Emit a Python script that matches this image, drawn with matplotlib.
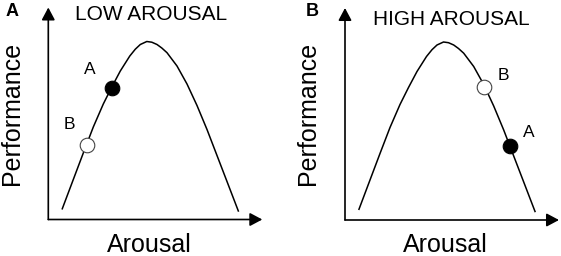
import matplotlib
matplotlib.use("Agg")
import matplotlib.pyplot as plt

plt.rcParams["font.family"] = ["Liberation Sans", "DejaVu Sans"]

# inverted-U curve (same shape in both panels)
arousal = [13.7, 25.0, 35.0, 45.0, 55.0, 63.5, 72.0, 81.5, 87.0, 92.0, 98.5,
           103.5, 108.7, 113.5, 118.7, 128.7, 138.7, 148.7, 158.7, 168.7, 178.7, 190.3]
performance = [10.0, 40.0, 66.5, 92.5, 115.5, 132.5, 148.5, 163.5, 170.3, 175.0, 178.0,
               177.3, 175.0, 171.5, 166.8, 153.5, 135.5, 114.0, 90.0, 64.0, 38.0, 7.8]

titles = ["LOW AROUSAL", "HIGH AROUSAL"]
panel_labels = ["A", "B"]

# marked points per panel: (arousal, performance)
point_a = [(63.4, 131.5), (165.0, 74.0)]
point_b = [(38.4, 74.5), (139.3, 133.5)]
# label offsets in pixels (dx, dy) from each point
offset_a = [(-22, 19), (18.5, 13.5)]
offset_b = [(-17.7, 20.7), (18.7, 10.8)]

W, H = 561, 256
x_len = 214
y_len = 212

fig = plt.figure(figsize=(W / 100, H / 100), dpi=100)

origins = [(48.3, 219.5), (345.0, 220.0)]
title_pos = [(151, 20), (451.7, 25)]
plabel_pos = [(12, 16), (312.5, 16)]
ylabel_x = [12.5, 308.0]
xlabel_x = [149.0, 445.0]


def fx(px):
    return px / W


def fy(py):
    return 1 - py / H


for i in range(2):
    ox, oy = origins[i]
    ax = fig.add_axes([fx(ox), (H - oy) / H, x_len / W, y_len / H])
    ax.set_xlim(0, x_len)
    ax.set_ylim(0, y_len)
    ax.axis("off")

    arrow = dict(arrowstyle="-|>,head_length=0.75,head_width=0.4", color="black",
                 lw=1.2, shrinkA=0, shrinkB=0, mutation_scale=10)
    ax.annotate("", xy=(x_len, 0), xytext=(0, 0), arrowprops=arrow, annotation_clip=False)
    ax.annotate("", xy=(0, y_len), xytext=(0, 0), arrowprops=arrow, annotation_clip=False)

    ax.plot(arousal, performance, color="black", lw=1.1, solid_capstyle="butt",
            solid_joinstyle="round", clip_on=False)

    ax.plot(*point_a[i], "o", ms=10.5, mfc="black", mec="black", mew=0.8, clip_on=False)
    ax.plot(*point_b[i], "o", ms=10.5, mfc="white", mec="#444444", mew=0.8, clip_on=False)

    for lab, pt, off in (("A", point_a[i], offset_a[i]), ("B", point_b[i], offset_b[i])):
        ax.annotate(lab, xy=pt, xytext=(off[0] * 0.72, off[1] * 0.72),
                    textcoords="offset points", ha="center", va="center",
                    fontsize=12.5, annotation_clip=False)

    fig.text(fx(title_pos[i][0]), fy(title_pos[i][1]), titles[i], ha="center",
             va="baseline", fontsize=15)
    fig.text(fx(plabel_pos[i][0]), fy(plabel_pos[i][1]), panel_labels[i], ha="center",
             va="baseline", fontsize=13, fontweight="bold")
    fig.text(fx(ylabel_x[i]), fy(113.5), "Performance", rotation=90, ha="center",
             va="center", fontsize=18)
    fig.text(fx(xlabel_x[i]), fy(252), "Arousal", ha="center", va="baseline", fontsize=18)

fig.savefig("out.png", dpi=100)
